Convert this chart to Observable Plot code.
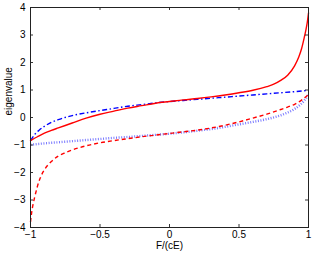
<!DOCTYPE html>
<html><head><meta charset="utf-8">
<script src="https://cdn.jsdelivr.net/npm/d3@7"></script>
<script src="https://cdn.jsdelivr.net/npm/@observablehq/plot@0.6"></script>
<style>html,body{margin:0;padding:0;background:#fff}svg{display:block}</style>
</head><body><div id="chart"></div>
<script>
// Red solid branch
const redSolidF = [-1, -0.95, -0.9, -0.85, -0.8, -0.7, -0.6, -0.5, -0.4, -0.3, -0.2, -0.1, 0, 0.1, 0.2, 0.3, 0.4, 0.5, 0.6, 0.7, 0.75, 0.8, 0.85, 0.9, 0.93, 0.95, 0.97, 0.98, 0.99, 1];
const redSolidV = [-0.84, -0.70, -0.57, -0.47, -0.38, -0.20, -0.02, 0.12, 0.23, 0.34, 0.43, 0.52, 0.58, 0.64, 0.69, 0.75, 0.82, 0.90, 0.99, 1.12, 1.21, 1.35, 1.54, 1.88, 2.2, 2.5, 2.92, 3.15, 3.42, 3.8];
// Red dashed branch
const redDashF = [-1, -0.99, -0.98, -0.97, -0.95, -0.93, -0.9, -0.85, -0.8, -0.75, -0.7, -0.6, -0.5, -0.4, -0.3, -0.2, -0.1, 0, 0.1, 0.2, 0.3, 0.4, 0.5, 0.6, 0.7, 0.8, 0.85, 0.9, 0.95, 1];
const redDashV = [-3.8, -3.4, -3.12, -2.9, -2.5, -2.2, -1.9, -1.6, -1.4, -1.28, -1.18, -1.03, -0.92, -0.84, -0.77, -0.70, -0.64, -0.58, -0.52, -0.46, -0.38, -0.28, -0.16, -0.02, 0.12, 0.29, 0.38, 0.48, 0.63, 0.84];
// Blue dash-dot branch
const blueDashDotF = [-1, -0.97, -0.94, -0.9, -0.85, -0.8, -0.7, -0.6, -0.5, -0.4, -0.3, -0.2, -0.1, 0, 0.1, 0.2, 0.3, 0.4, 0.5, 0.6, 0.7, 0.8, 0.9, 1];
const blueDashDotV = [-0.84, -0.62, -0.47, -0.32, -0.18, -0.08, 0.07, 0.17, 0.25, 0.33, 0.41, 0.47, 0.53, 0.58, 0.62, 0.66, 0.70, 0.74, 0.78, 0.82, 0.86, 0.90, 0.94, 0.99];
// Blue dotted branch
const blueDotF = [-1, -0.9, -0.8, -0.7, -0.6, -0.5, -0.4, -0.3, -0.2, -0.1, 0, 0.1, 0.2, 0.3, 0.4, 0.5, 0.6, 0.7, 0.8, 0.85, 0.9, 0.94, 0.97, 1];
const blueDotV = [-0.99, -0.94, -0.90, -0.86, -0.82, -0.78, -0.74, -0.71, -0.67, -0.63, -0.59, -0.54, -0.48, -0.42, -0.34, -0.25, -0.16, -0.06, 0.08, 0.18, 0.31, 0.46, 0.62, 0.84];

const xTicks = [-1, -0.5, 0, 0.5, 1];
const yTicks = [-4, -3, -2, -1, 0, 1, 2, 3, 4];
const xLabel = "F/(cE)";
const yLabel = "eigenvalue";

const zip = (fs, vs) => fs.map((f, i) => ({F: f, v: vs[i]}));
const W = 313, H = 253, mL = 30, mR = 5, mT = 7, mB = 26;
const fw = W - mL - mR, fh = H - mT - mB;
const fmt = d => (d < 0 ? "\u2212" : "") + Math.abs(d);
const font = "'Liberation Sans', Arial, Helvetica, sans-serif";

const chart = Plot.plot({
  width: W, height: H,
  marginLeft: mL, marginRight: mR, marginTop: mT, marginBottom: mB,
  style: {fontFamily: font, fontSize: "10px", background: "#fff", color: "#000"},
  x: {domain: [-1, 1]},
  y: {domain: [-4, 4]},
  marks: [
    Plot.line(zip(blueDotF, blueDotV), {x: "F", y: "v", curve: "monotone-x", stroke: "#4d4dff", strokeOpacity: 0.75, strokeWidth: 2.4, strokeDasharray: "1,1.6", strokeLinecap: "butt"}),
    Plot.line(zip(redDashF, redDashV), {x: "F", y: "v", curve: "monotone-x", stroke: "#ff0000", strokeWidth: 1.4, strokeDasharray: "4,3", strokeLinecap: "butt"}),
    Plot.line(zip(blueDashDotF, blueDashDotV), {x: "F", y: "v", curve: "monotone-x", stroke: "#0000ff", strokeWidth: 1.4, strokeDasharray: "5,2.5,1.5,2.5", strokeLinecap: "butt"}),
    Plot.line(zip(redSolidF, redSolidV), {x: "F", y: "v", curve: "monotone-x", stroke: "#ff0000", strokeWidth: 1.4}),
    Plot.ruleX(xTicks, {x: d => d, insetTop: fh - 3, stroke: "#000", strokeWidth: 0.8}),
    Plot.ruleX(xTicks, {x: d => d, insetBottom: fh - 3, stroke: "#000", strokeWidth: 0.8}),
    Plot.ruleY(yTicks, {y: d => d, insetRight: fw - 3, stroke: "#000", strokeWidth: 0.8}),
    Plot.ruleY(yTicks, {y: d => d, insetLeft: fw - 3, stroke: "#000", strokeWidth: 0.8}),
    Plot.frame({stroke: "#222", strokeWidth: 1}),
    Plot.axisX(xTicks, {tickSize: 0, tickPadding: 3, tickFormat: fmt, label: null, fontSize: 10}),
    Plot.axisY(yTicks, {tickSize: 0, tickPadding: 5, tickFormat: fmt, label: null, fontSize: 10}),
    Plot.text([xLabel], {frameAnchor: "bottom", dy: 14, lineAnchor: "top", fontSize: 10}),
    Plot.text([yLabel], {frameAnchor: "left", dx: -22, dy: -2, rotate: -90, fontSize: 10})
  ]
});
document.getElementById("chart").appendChild(chart);
</script>
</body></html>
